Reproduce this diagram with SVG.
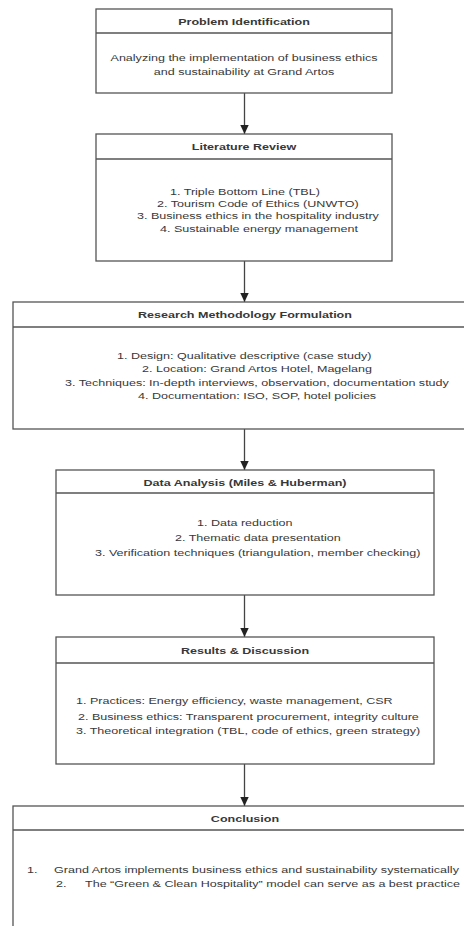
<svg xmlns="http://www.w3.org/2000/svg" width="464" height="926" viewBox="0 0 464 926">
<style>
.box{fill:#fff;stroke:#555;stroke-width:1.3}
.div{stroke:#555;stroke-width:1.3}
.t{font-family:"Liberation Sans",Arial,Helvetica,sans-serif;font-size:9.4px;fill:#383838}
.h{font-weight:bold;text-anchor:middle}
.c{text-anchor:middle}
.conn{stroke:#444;stroke-width:1.3;fill:none}
</style>
<defs>
<marker id="arr" markerUnits="userSpaceOnUse" markerWidth="10" markerHeight="10" refX="9" refY="5" orient="auto">
<path d="M0,0.8 L9,5 L0,9.2 Z" fill="#222"/>
</marker>
</defs>
<rect width="464" height="926" fill="#fff"/>

<g id="connectors">
<line class="conn" x1="244.5" y1="93" x2="244.5" y2="134" marker-end="url(#arr)"/>
<line class="conn" x1="244.5" y1="261" x2="244.5" y2="302" marker-end="url(#arr)"/>
<line class="conn" x1="244.5" y1="429" x2="244.5" y2="470" marker-end="url(#arr)"/>
<line class="conn" x1="244.5" y1="595" x2="244.5" y2="637" marker-end="url(#arr)"/>
<line class="conn" x1="244.5" y1="764" x2="244.5" y2="806" marker-end="url(#arr)"/>
</g>

<g id="problem-identification">
<rect class="box" x="96" y="9" width="296" height="84"/>
<line class="div" x1="96" y1="33" x2="392" y2="33"/>
<text class="t h" transform="translate(244,0) scale(1.335,1)" x="0" y="25">Problem Identification</text>
<text class="t c" transform="translate(244,0) scale(1.335,1)" x="0" y="61">Analyzing the implementation of business ethics</text>
<text class="t c" transform="translate(244,0) scale(1.335,1)" x="0" y="75.5">and sustainability at Grand Artos</text>
</g>

<g id="literature-review">
<rect class="box" x="96" y="134" width="296" height="127"/>
<line class="div" x1="96" y1="159" x2="392" y2="159"/>
<text class="t h" transform="translate(244,0) scale(1.335,1)" x="0" y="150">Literature Review</text>
<text class="t" transform="translate(170,0) scale(1.335,1)" x="0" y="195">1. Triple Bottom Line (TBL)</text>
<text class="t" transform="translate(157,0) scale(1.335,1)" x="0" y="207.3">2. Tourism Code of Ethics (UNWTO)</text>
<text class="t" transform="translate(137,0) scale(1.335,1)" x="0" y="219.5">3. Business ethics in the hospitality industry</text>
<text class="t" transform="translate(160,0) scale(1.335,1)" x="0" y="231.7">4. Sustainable energy management</text>
</g>

<g id="research-methodology">
<rect class="box" x="13" y="302" width="464" height="127"/>
<line class="div" x1="13" y1="327" x2="477" y2="327"/>
<text class="t h" transform="translate(245,0) scale(1.335,1)" x="0" y="318">Research Methodology Formulation</text>
<text class="t" transform="translate(117,0) scale(1.335,1)" x="0" y="359">1. Design: Qualitative descriptive (case study)</text>
<text class="t" transform="translate(142,0) scale(1.335,1)" x="0" y="372.5">2. Location: Grand Artos Hotel, Magelang</text>
<text class="t" transform="translate(65,0) scale(1.335,1)" x="0" y="386">3. Techniques: In-depth interviews, observation, documentation study</text>
<text class="t" transform="translate(138,0) scale(1.335,1)" x="0" y="399.5">4. Documentation: ISO, SOP, hotel policies</text>
</g>

<g id="data-analysis">
<rect class="box" x="56" y="470" width="378" height="125"/>
<line class="div" x1="56" y1="493" x2="434" y2="493"/>
<text class="t h" transform="translate(245,0) scale(1.335,1)" x="0" y="486.5">Data Analysis (Miles &amp; Huberman)</text>
<text class="t" transform="translate(197,0) scale(1.335,1)" x="0" y="526">1. Data reduction</text>
<text class="t" transform="translate(175,0) scale(1.335,1)" x="0" y="541">2. Thematic data presentation</text>
<text class="t" transform="translate(95,0) scale(1.335,1)" x="0" y="556.5">3. Verification techniques (triangulation, member checking)</text>
</g>

<g id="results-discussion">
<rect class="box" x="56" y="637" width="378" height="127"/>
<line class="div" x1="56" y1="663" x2="434" y2="663"/>
<text class="t h" transform="translate(245,0) scale(1.335,1)" x="0" y="654">Results &amp; Discussion</text>
<text class="t" transform="translate(76,0) scale(1.335,1)" x="0" y="704.5">1. Practices: Energy efficiency, waste management, CSR</text>
<text class="t" transform="translate(78,0) scale(1.335,1)" x="0" y="720">2. Business ethics: Transparent procurement, integrity culture</text>
<text class="t" transform="translate(76,0) scale(1.335,1)" x="0" y="734.5">3. Theoretical integration (TBL, code of ethics, green strategy)</text>
</g>

<g id="conclusion">
<rect class="box" x="13" y="806" width="464" height="140"/>
<line class="div" x1="13" y1="830" x2="477" y2="830"/>
<text class="t h" transform="translate(245,0) scale(1.335,1)" x="0" y="822.5">Conclusion</text>
<text class="t" transform="translate(27,0) scale(1.335,1)" x="0" y="873.5">1.</text>
<text class="t" transform="translate(54,0) scale(1.335,1)" x="0" y="873.5">Grand Artos implements business ethics and sustainability systematically</text>
<text class="t" transform="translate(56,0) scale(1.335,1)" x="0" y="887.5">2.</text>
<text class="t" transform="translate(85,0) scale(1.335,1)" x="0" y="887.5">The “Green &amp; Clean Hospitality” model can serve as a best practice</text>
</g>
</svg>
